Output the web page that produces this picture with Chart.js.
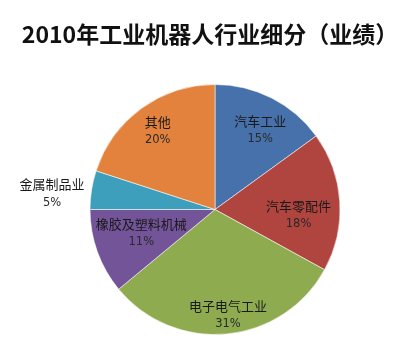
<!DOCTYPE html>
<html>
<head>
<meta charset="utf-8">
<script src="https://cdn.jsdelivr.net/npm/chart.js@4/dist/chart.umd.min.js"></script>
<style>
html,body{margin:0;padding:0;background:#fff;}
#wrap{width:420px;height:356px;position:relative;}
</style>
</head>
<body>
<div id="wrap"><canvas id="c" width="420" height="356"></canvas></div>
<script>
const titleText = "2010年工业机器人行业细分（业绩）";
const categories = ["汽车工业", "汽车零配件", "电子电气工业", "橡胶及塑料机械", "金属制品业", "其他"];
const values = [15, 18, 31, 11, 5, 20];
const colors = ["#4771aa", "#b0443f", "#8eab50", "#735498", "#3e9fbc", "#e3823c"];

// label placement style: radial fraction of radius and angle tweak (degrees)
const labelFrac = [0.73, 0.67, 0.85, 0.62, 1.31, 0.78];
const labelDelta = [2.7, 7.7, -1.6, 1.8, -3.4, 0];

const titlePlugin = {
  id: 'customTitle',
  afterDraw(chart) {
    const ctx = chart.ctx;
    ctx.save();
    ctx.fillStyle = '#111';
    ctx.font = 'bold 23px "Noto Sans CJK SC", "DejaVu Sans", sans-serif';
    ctx.textAlign = 'center';
    ctx.textBaseline = 'middle';
    ctx.fillText(titleText, 210, 34);
    ctx.restore();
  }
};

const labelPlugin = {
  id: 'sliceLabels',
  afterDatasetsDraw(chart) {
    const ctx = chart.ctx;
    const meta = chart.getDatasetMeta(0);
    const total = values.reduce((a, b) => a + b, 0);
    ctx.save();
    ctx.textAlign = 'center';
    ctx.textBaseline = 'middle';
    meta.data.forEach((arc, i) => {
      const p = arc.getProps(['x', 'y', 'startAngle', 'endAngle', 'outerRadius'], true);
      const mid = (p.startAngle + p.endAngle) / 2 + labelDelta[i] * Math.PI / 180;
      const r = p.outerRadius * labelFrac[i];
      const cx = p.x + Math.cos(mid) * r;
      const cy = p.y + Math.sin(mid) * r;
      ctx.fillStyle = '#1a1a1a';
      ctx.font = '13px "Noto Sans CJK SC", sans-serif';
      ctx.fillText(categories[i], cx, cy - 9);
      ctx.fillStyle = '#2a2a2a';
      ctx.font = '11.5px "DejaVu Sans", sans-serif';
      ctx.fillText(Math.round(values[i] / total * 100) + '%', cx, cy + 9);
    });
    ctx.restore();
  }
};

new Chart(document.getElementById('c'), {
  type: 'pie',
  data: {
    labels: categories,
    datasets: [{
      data: values,
      backgroundColor: colors,
      borderColor: 'rgba(255,255,255,0.55)',
      borderWidth: 1
    }]
  },
  options: {
    responsive: false,
    animation: false,
    rotation: 0,
    layout: { padding: { top: 84, bottom: 21, left: 10, right: 0 } },
    plugins: {
      legend: { display: false },
      tooltip: { enabled: false },
      title: { display: false }
    }
  },
  plugins: [titlePlugin, labelPlugin]
});
</script>
</body>
</html>
